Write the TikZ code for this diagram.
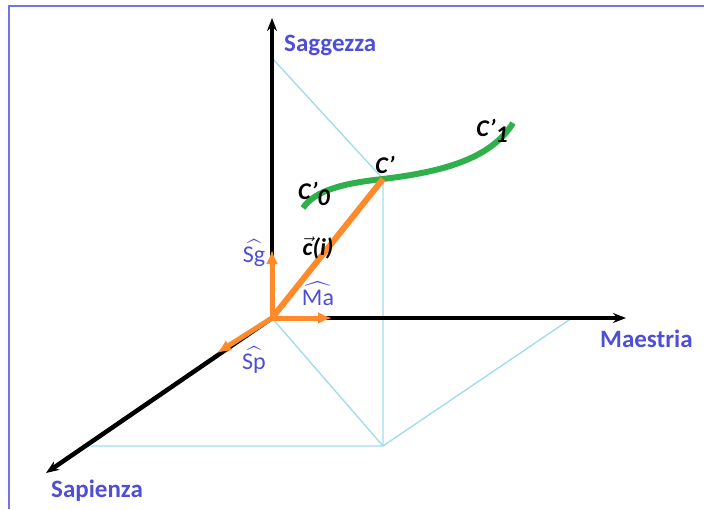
\documentclass[tikz,border=0pt]{standalone}
\usepackage{fontspec}
\setmainfont{Carlito}
\usepackage{amsmath}
\usetikzlibrary{arrows.meta}
\definecolor{framecol}{HTML}{7373E6}
\definecolor{labelcol}{HTML}{4F4FD6}
\definecolor{vecorange}{HTML}{FF8A2B}
\definecolor{curvegreen}{HTML}{2EB04B}
\definecolor{projblue}{HTML}{A4DCEC}
\tikzset{
  axisarrow/.style={-{Stealth[length=13pt,width=10pt]},line width=4.5pt,black},
  unitarrow/.style={-{Latex[length=14pt,width=12pt]},line width=5pt,draw=vecorange},
  projline/.style={draw=projblue,line width=1.4pt},
  axislabel/.style={font=\fontsize{25}{28}\selectfont\bfseries,text=labelcol,inner sep=0pt},
  hatlabel/.style={font=\fontsize{24}{27}\selectfont,text=labelcol,inner sep=0pt},
  pointlabel/.style={font=\fontsize{24}{27}\selectfont\bfseries\itshape,inner sep=0pt}
}

\begin{document}
\begin{tikzpicture}[x=1pt,y=-1pt]
  \useasboundingbox (0,0) rectangle (704,509);
  \draw[framecol,line width=2pt] (9,509)--(9,6)--(704,6);
  % points of the frame
  \coordinate (O)  at (272,318);
  \coordinate (SgP) at (272,58);
  \coordinate (MaP) at (572,318);
  \coordinate (SpP) at (88,446);
  \coordinate (P)  at (383,446);
  \coordinate (C)  at (383,179);
  \coordinate (C0) at (303,208);
  \coordinate (C1) at (513,123);
  % projection lines
  \draw[projline] (SgP)--(C)--(P);
  \draw[projline] (SpP)--(P)--(MaP);
  \draw[projline] (O)--(P);
  % axes
  \draw[axisarrow] (O)--(272,18) coordinate (SgEnd);
  \draw[axisarrow] (O)--(626,318) coordinate (MaEnd);
  \draw[axisarrow] (O)--(46,473) coordinate (SpEnd);
  \node[axislabel,anchor=west] (sag) at (284,45) {Saggezza};
  \node[axislabel,anchor=west] (mae) at (600,339) {Maestria};
  \node[axislabel,anchor=west] (sap) at (51,491) {Sapienza};
  % trajectory
  \draw[curvegreen,line width=6pt] (C0) .. controls (315,190) and (345,183) .. (C)
    .. controls (440,172) and (490,160) .. (C1);
  % vectors
  \draw[draw=vecorange,line width=6pt] (O)--(C);
  \draw[unitarrow] (O)--(272,250);
  \draw[unitarrow] (O)--(332,318);
  \draw[unitarrow] (O)--(217,353);
  \node[hatlabel] (sg) at (254,253) {$\widehat{\text{Sg}}$};
  \node[hatlabel] (ma) at (318,294) {$\widehat{\text{Ma}}$};
  \node[hatlabel] (sp) at (254,360) {$\widehat{\text{Sp}}$};
  \node[pointlabel] (ci) at (318,248) {$\vec{\text{\bfseries\itshape c}}$(i)};
  \node[pointlabel] (c0l) at (314,194) {C'\raisebox{-6pt}{0}};
  \node[pointlabel] (cl) at (385,165) {C'};
  \node[pointlabel] (c1l) at (492,131) {C'\raisebox{-6pt}{1}};
\end{tikzpicture}
\end{document}
